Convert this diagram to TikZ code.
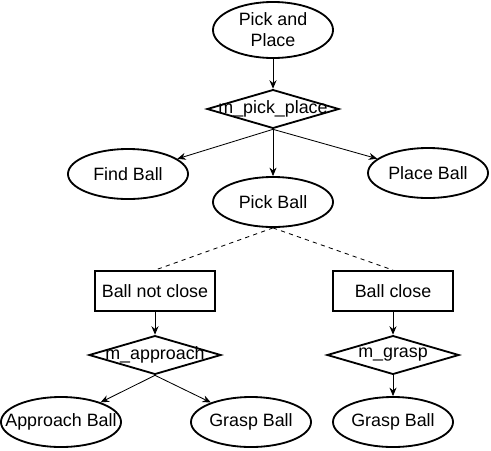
\documentclass[tikz,border=0pt]{standalone}
\usepackage{fontspec}
\setmainfont{Liberation Sans}
\usetikzlibrary{shapes.geometric, arrows.meta}

\tikzset{
  oval/.style={draw, ellipse, line width=1.3pt, minimum width=3cm, minimum height=1.25cm, inner sep=0pt},
  choice/.style={draw, diamond, line width=1.3pt, minimum width=3.3cm, minimum height=0.97cm, inner sep=0pt},
  cond/.style={draw, rectangle, line width=1.3pt, minimum width=3cm, minimum height=1cm},
  link/.style={line width=0.6pt, -{Stealth[length=6pt, width=5pt]}},
}

\begin{document}
\begin{tikzpicture}[x=0.025cm, y=-0.025cm, font=\fontsize{12.7}{15}\selectfont]
  \useasboundingbox (0,0) rectangle (491,450);

  % Root task and its method
  \node[oval, minimum height=1.4cm, label={[align=center]center:Pick and\\Place}] (root) at (273,30) {};
  \node[choice, label=center:m\_pick\_place] (mpp) at (273,109) {};

  % Subtasks
  \node[oval, label=center:Find Ball] (find) at (128,174) {};
  \node[oval, label=center:Pick Ball] (pick) at (273,202) {};
  \node[oval, label=center:Place Ball] (place) at (428,173) {};

  % Conditions
  \node[cond] (notclose) at (155,291) {Ball not close};
  \node[cond] (close) at (393,291) {Ball close};

  % Methods
  \node[choice, label=center:m\_approach] (mapp) at (155,355) {};
  \node[choice, label=center:m\_grasp] (mgrasp) at (393,355) {};

  % Leaves
  \node[oval, label=center:Approach Ball] (approach) at (61,422) {};
  \node[oval, label=center:Grasp Ball] (graspa) at (251,422) {};
  \node[oval, label=center:Grasp Ball] (graspb) at (393,422) {};

  % Connectors
  \draw[link] (root) -- (mpp);
  \draw[link] (mpp.south) -- (find);
  \draw[link] (mpp.south) -- (pick);
  \draw[link] (mpp.south) -- (place);
  \draw[dashed, line width=0.6pt] (pick.south) -- (notclose.north);
  \draw[dashed, line width=0.6pt] (pick.south) -- (close.north);
  \draw[link] (notclose) -- (mapp);
  \draw[link] (close) -- (mgrasp);
  \draw[link] (mapp.south) -- (approach);
  \draw[link] (mapp.south) -- (graspa);
  \draw[link] (mgrasp) -- (graspb);
\end{tikzpicture}
\end{document}
